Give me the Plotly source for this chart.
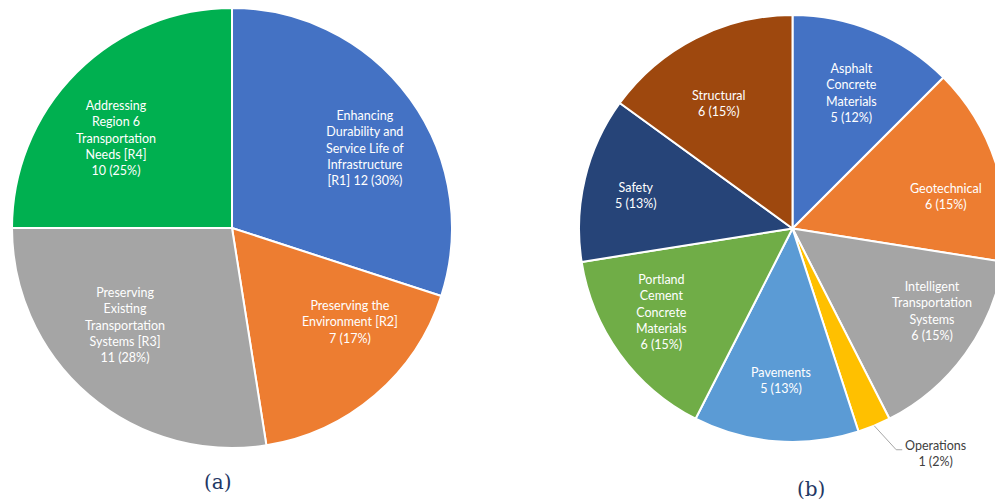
import math
import plotly.graph_objects as go

# ---------------- data ----------------
a_labels = ["Enhancing<br>Durability and<br>Service Life of<br>Infrastructure<br>[R1]",
            "Preserving the<br>Environment [R2]",
            "Preserving<br>Existing<br>Transportation<br>Systems [R3]",
            "Addressing<br>Region 6<br>Transportation<br>Needs [R4]"]
a_values = [12, 7, 11, 10]
a_pct = ["30%", "17%", "28%", "25%"]

b_labels = ["Asphalt<br>Concrete<br>Materials", "Geotechnical",
            "Intelligent<br>Transportation<br>Systems", "Operations",
            "Pavements", "Portland<br>Cement<br>Concrete<br>Materials",
            "Safety", "Structural"]
b_values = [5, 6, 6, 1, 5, 6, 5, 6]
b_pct = ["12%", "15%", "15%", "2%", "13%", "15%", "13%", "15%"]

# ---------------- style ----------------
W, H = 1010, 502
a_colors = ["#4472C4", "#ED7D31", "#A5A5A5", "#00B050"]
b_colors = ["#4472C4", "#ED7D31", "#A5A5A5", "#FFC000",
            "#5B9BD5", "#70AD47", "#264478", "#9E480E"]
# pie geometry in pixels: center x, center y, radius
A_GEO = (232, 228, 220)
B_GEO = (792.5, 228.5, 213.5)
# label placement (radius fraction, angle offset in degrees)
a_lab_r = [0.705, 0.686, 0.656, 0.667]
a_lab_da = [5.0, -11.0, 7.3, -7.2]
a_sep = ["", "<br>", "<br>", "<br>"]  # R1 count on same line
b_lab_r = [0.693, 0.734, 0.759, None, 0.716, 0.726, 0.749, 0.681]
b_lab_da = [1.2, 6.2, -5.4, 0, -0.2, 3.4, -1.6, -3.4]

FONT = "Lato, 'Open Sans', sans-serif"
SERIF = "'DejaVu Serif', 'Liberation Serif', serif"


def px(x, y):
    return x / W, 1 - y / H


def domain(geo):
    cx, cy, r = geo
    x0, y1 = px(cx - r, cy - r)
    x1, y0 = px(cx + r, cy + r)
    return dict(x=[x0, x1], y=[y0, y1])


def mids(values):
    tot = sum(values)
    out, c = [], 0
    for v in values:
        out.append((c + v / 2) / tot * 360)
        c += v
    return out


fig = go.Figure()
fig.add_trace(go.Pie(values=a_values, sort=False, direction="clockwise", rotation=0,
                     marker=dict(colors=a_colors, line=dict(color="white", width=2)),
                     textinfo="none", hoverinfo="skip", domain=domain(A_GEO)))
fig.add_trace(go.Pie(values=b_values, sort=False, direction="clockwise", rotation=0,
                     marker=dict(colors=b_colors, line=dict(color="white", width=2)),
                     textinfo="none", hoverinfo="skip", domain=domain(B_GEO)))

annotations = []
shapes = []

cx, cy, R = A_GEO
for lab, v, p, m, rf, da, sep in zip(a_labels, a_values, a_pct, mids(a_values),
                                      a_lab_r, a_lab_da, a_sep):
    ang = math.radians(m + da)
    x = cx + rf * R * math.sin(ang)
    y = cy - rf * R * math.cos(ang)
    xp, yp = px(x, y)
    txt = f"{lab}{' ' if sep == '' else sep}{v} ({p})"
    annotations.append(dict(x=xp, y=yp, xref="paper", yref="paper", text=txt,
                            showarrow=False, xanchor="center", yanchor="middle",
                            align="center", font=dict(family=FONT, size=12.5, color="white")))

cx, cy, R = B_GEO
for lab, v, p, m, rf, da in zip(b_labels, b_values, b_pct, mids(b_values), b_lab_r, b_lab_da):
    txt = f"{lab}<br>{v} ({p})"
    if rf is None:
        ang = math.radians(m)
        sx = cx + R * math.sin(ang)
        sy = cy - R * math.cos(ang)
        ex, ey = sx + 22, sy + 24
        hx = ex + 6
        p0, p1, p2 = px(sx, sy), px(ex, ey), px(hx, ey)
        shapes.append(dict(type="path", xref="paper", yref="paper",
                           path=f"M {p0[0]} {p0[1]} L {p1[0]} {p1[1]} L {p2[0]} {p2[1]}",
                           line=dict(color="#A6A6A6", width=1)))
        tx, ty = px(hx + 1, ey + 4)
        annotations.append(dict(x=tx, y=ty, xref="paper", yref="paper", text=txt,
                                showarrow=False, xanchor="left", yanchor="middle",
                                align="center", font=dict(family=FONT, size=12.5, color="#404040")))
        continue
    ang = math.radians(m + da)
    x = cx + rf * R * math.sin(ang)
    y = cy - rf * R * math.cos(ang)
    xp, yp = px(x, y)
    annotations.append(dict(x=xp, y=yp, xref="paper", yref="paper", text=txt,
                            showarrow=False, xanchor="center", yanchor="middle",
                            align="center", font=dict(family=FONT, size=12.5, color="white")))

for cap, (x, y) in zip(["(a)", "(b)"], [(218, 482), (811, 489)]):
    xp, yp = px(x, y)
    annotations.append(dict(x=xp, y=yp, xref="paper", yref="paper", text=cap,
                            showarrow=False, xanchor="center", yanchor="middle",
                            font=dict(family=SERIF, size=20, color="#1F3864")))

fig.update_layout(width=W, height=H, margin=dict(l=0, r=0, t=0, b=0),
                  paper_bgcolor="white", plot_bgcolor="white", showlegend=False,
                  annotations=annotations, shapes=shapes)

fig.write_html("out.html", config={"displayModeBar": False},
               post_script="document.body.style.margin='0';document.body.style.overflow='hidden';")
